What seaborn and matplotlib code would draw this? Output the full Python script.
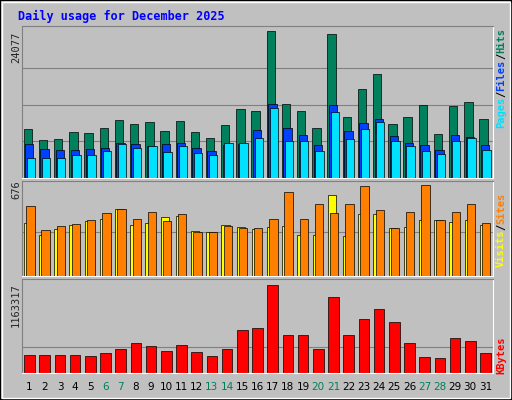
import matplotlib
matplotlib.use("Agg")
import matplotlib.pyplot as plt
import seaborn as sns
import numpy as np

sns.set_style("white")
plt.rcParams['font.family'] = ['DejaVu Sans Mono', 'DejaVu Sans']

days = list(range(1, 32))
weekends = [6, 7, 13, 14, 20, 21, 27, 28]
hits_px = [128,139,138,131,132,127,119,123,121,130,120,131,137,124,108,110,30,103,110,127,33,116,88,73,123,116,104,133,105,101,118]
files_px = [143,148,149,149,148,147,142,143,145,143,142,147,150,144,143,129,103,127,134,144,104,130,122,118,135,142,144,149,134,136,144]
pages_px = [157,157,157,154,154,150,143,147,145,151,145,152,154,142,142,137,107,140,140,150,111,138,128,121,140,145,150,153,140,137,149]
visits_px = [222,234,228,224,220,218,208,224,222,216,215,230,231,224,226,228,226,225,234,234,194,235,213,213,227,226,219,219,221,219,224]
sites_px = [205,229,225,223,219,212,208,218,211,220,213,231,231,225,227,227,218,191,218,203,212,203,185,209,227,211,184,219,211,203,222]
kb_px = [354,354,354,354,355,352,348,342,345,350,344,351,355,348,329,327,284,334,334,348,296,334,318,308,321,342,356,357,337,340,352]

hits = [(177-p)/147*24077 for p in hits_px]
files = [(177-p)/147*24077 for p in files_px]
pages = [(177-p)/147*24077 for p in pages_px]
visits = [(275-p)/89*676 for p in visits_px]
sites = [(275-p)/89*676 for p in sites_px]
kbytes = [(372-p)/87*1163317 for p in kb_px]

W, H = 512, 400
fig = plt.figure(figsize=(W/100, H/100), dpi=100)
fig.patch.set_facecolor('#c0c0c0')
fig.add_artist(plt.Rectangle((0, 0), 1, 1, transform=fig.transFigure, fill=False, ec='black', lw=1.5))
fig.add_artist(plt.Rectangle((2/W, 2/H), 1-4/W, 1-4/H, transform=fig.transFigure, fill=False, ec='white', lw=1))
fig.text(18/W, 1-16/H, "Daily usage for December 2025", color='#0000ff', fontsize=8.5, fontweight='bold', va='center')

def mkax(top, bottom):
    ax = fig.add_axes([22/W, 1-bottom/H, (493-22)/W, (bottom-top)/H])
    ax.set_facecolor('#c0c0c0')
    for s in ax.spines.values():
        s.set_color('#808080')
    ax.spines['bottom'].set_color('white'); ax.spines['right'].set_color('white')
    ax.set_xlim(0.5, 31.5)
    ax.set_xticks([]); ax.set_yticks([])
    return ax

x = np.array(days)
ax1 = mkax(26, 178)
ax1.set_ylim(0, 24077*152/147)
for y in [24077*0.25, 24077*0.5, 24077*0.75]:
    ax1.axhline(y, color='#808080', lw=0.8, zorder=0)
ax1.bar(x-0.12, hits, width=0.55, color='#00805c', ec='black', lw=0.5, zorder=2)
ax1.bar(x-0.02, files, width=0.55, color='#0040ff', ec='black', lw=0.5, zorder=3)
ax1.bar(x+0.08, pages, width=0.55, color='#00e0ff', ec='black', lw=0.5, zorder=4)

ax2 = mkax(181, 276)
ax2.set_ylim(0, 676*95/89)
ax2.axhline(676*0.5, color='#808080', lw=0.8, zorder=0)
ax2.bar(x-0.1, visits, width=0.55, color='#ffff00', ec='black', lw=0.5, zorder=2)
ax2.bar(x+0.05, sites, width=0.55, color='#ff8000', ec='black', lw=0.5, zorder=3)

ax3 = mkax(279, 373)
ax3.set_ylim(0, 1163317*94/87)
ax3.axhline(1163317*0.3, color='#808080', lw=0.8, zorder=0)
ax3.bar(x, kbytes, width=0.7, color='#ff0000', ec='black', lw=0.5, zorder=2)

for d in days:
    fig.text((22 + (d-0.5)/31*471)/W, 1-387/H, str(d), ha='center', va='center',
             fontsize=7.5, color='#00805c' if d in weekends else 'black', family='DejaVu Sans')

fig.text(16/W, 1-47/H, "24077", rotation=90, ha='center', va='center', fontsize=7.5)
fig.text(16/W, 1-190/H, "676", rotation=90, ha='center', va='center', fontsize=7.5)
fig.text(16/W, 1-305/H, "1163317", rotation=90, ha='center', va='center', fontsize=7.5)

def rlabel(ypix, parts):
    # parts listed top to bottom on the image; text reads bottom-up
    total = sum(len(t) for t, _ in parts)
    cw = 6.2
    y0 = ypix - total*cw/2
    for t, c in parts:
        yc = y0 + len(t)*cw/2
        fig.text(501/W, 1-yc/H, t, rotation=90, ha='center', va='center', fontsize=7.5, color=c, fontweight='bold')
        y0 += len(t)*cw

rlabel(78, [("Hits", '#00805c'), ("/", 'black'), ("Files", '#0040ff'), ("/", 'black'), ("Pages", '#00e0ff')])
rlabel(230, [("Sites", '#ff8000'), ("/", 'black'), ("Visits", '#ffff00')])
rlabel(355, [("KBytes", '#ff0000')])

fig.savefig("out.png", dpi=100, facecolor=fig.get_facecolor())
